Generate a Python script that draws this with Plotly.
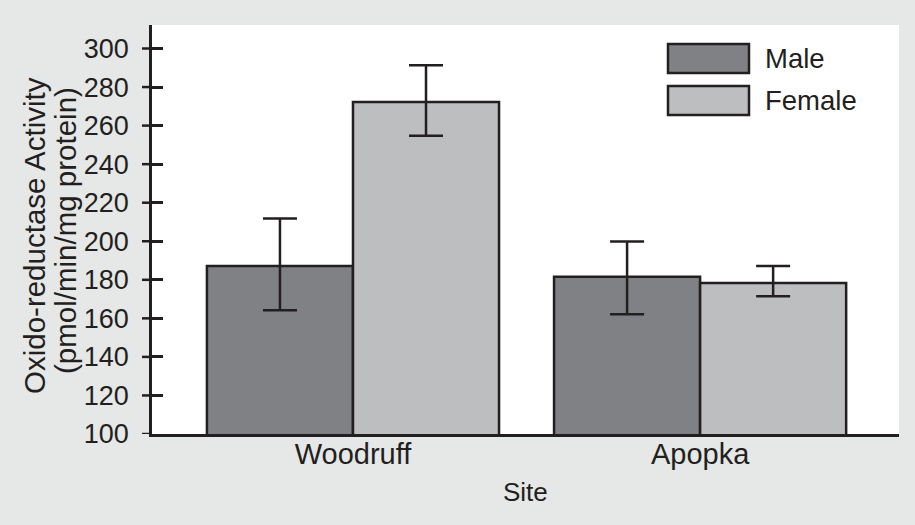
import plotly.graph_objects as go

sites = ["Woodruff", "Apopka"]
male = [187.1, 181.6]
male_err_plus = [24.7, 18.3]
male_err_minus = [22.9, 19.5]
female = [272.3, 178.4]
female_err_plus = [19.0, 8.7]
female_err_minus = [17.5, 6.9]
yticks = [100, 120, 140, 160, 180, 200, 220, 240, 260, 280, 300]

INK = "#231f20"
FONT = "Liberation Sans"
BG = "#e6e7e7"

fig = go.Figure()
fig.add_trace(go.Bar(
    x=sites, y=male, name="Male",
    marker=dict(color="#808184", line=dict(color=INK, width=2.5)),
    error_y=dict(type="data", symmetric=False, array=male_err_plus,
                 arrayminus=male_err_minus, color=INK, thickness=2.5, width=17),
))
fig.add_trace(go.Bar(
    x=sites, y=female, name="Female",
    marker=dict(color="#bdbec0", line=dict(color=INK, width=2.5)),
    error_y=dict(type="data", symmetric=False, array=female_err_plus,
                 arrayminus=female_err_minus, color=INK, thickness=2.5, width=17),
))

yr = [100, 312.2]
fig.update_layout(
    width=915, height=525,
    margin=dict(l=152, r=16, t=25, b=91),
    paper_bgcolor=BG, plot_bgcolor="white",
    barmode="group", bargap=0.1585, bargroupgap=0,
    showlegend=False,
    font=dict(family=FONT, color=INK),
    xaxis=dict(
        range=[-0.579, 1.573], showline=True, linecolor=INK, linewidth=2.5,
        ticks="", showgrid=False, zeroline=False, ticklabelstandoff=-8,
        tickfont=dict(size=29, color=INK, family=FONT),
    ),
    yaxis=dict(
        range=yr, tickvals=yticks, showline=True, linecolor=INK, linewidth=2.5,
        ticks="inside", ticklen=11, tickwidth=2.5, tickcolor=INK,
        showgrid=False, zeroline=False, ticklabelstandoff=15,
        tickfont=dict(size=27, color=INK, family=FONT),
    ),
)

W = 915 - 152 - 16
H = 525 - 25 - 91
def px(x):
    return (x - 152) / W
def py(y):
    return (434 - y) / H

# outer half of the crossing y ticks, placed on the y scale
for v in yticks:
    fig.add_shape(type="line", xref="paper", yref="y", x0=-10 / W, x1=0,
                  y0=v, y1=v, line=dict(color=INK, width=2.5), layer="above")

# legend drawn as swatches + labels
legend_items = [("Male", "#808184", 44, 73), ("Female", "#bdbec0", 86, 115)]
for label, col, y0, y1 in legend_items:
    fig.add_shape(type="rect", xref="paper", yref="paper",
                  x0=px(668), x1=px(749), y0=py(y1), y1=py(y0),
                  fillcolor=col, line=dict(color=INK, width=2.5))
    fig.add_annotation(xref="paper", yref="paper", x=px(763), y=py((y0 + y1) / 2),
                       text=label, showarrow=False, xanchor="left", yanchor="middle",
                       font=dict(size=27.5, color=INK, family=FONT))

fig.add_annotation(xref="paper", yref="paper", x=px(34), y=py(236),
                   text="Oxido-reductase Activity", textangle=-90, showarrow=False,
                   xanchor="center", yanchor="middle",
                   font=dict(size=29.5, color=INK, family=FONT))
fig.add_annotation(xref="paper", yref="paper", x=px(65), y=py(231),
                   text="(pmol/min/mg protein)", textangle=-90, showarrow=False,
                   xanchor="center", yanchor="middle",
                   font=dict(size=29.5, color=INK, family=FONT))
fig.add_annotation(xref="paper", yref="paper", x=0.5, y=py(492),
                   text="Site", showarrow=False, xanchor="center", yanchor="middle",
                   font=dict(size=26, color=INK, family=FONT))

fig.write_html("out.html", config={"displayModeBar": False},
               post_script="document.body.style.margin='0';document.body.style.padding='0';")
